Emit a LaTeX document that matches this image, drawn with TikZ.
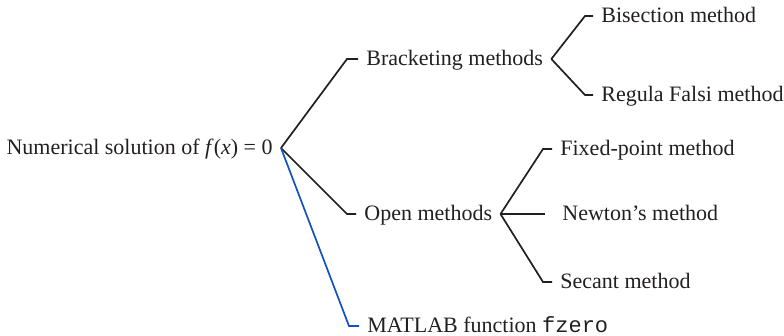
\documentclass[tikz,border=0pt]{standalone}
\usepackage{fontspec}
\setmainfont{Liberation Serif}
\setmonofont{Liberation Mono}
\definecolor{ink}{RGB}{35,31,32}
\definecolor{matblue}{RGB}{20,80,190}
\begin{document}
\begin{tikzpicture}[x=0.5pt, y=-0.5pt,
  lbl/.style={inner xsep=4pt, inner ysep=0pt, text height=0.66em, text depth=0pt,
              font=\fontsize{11}{13}\selectfont, text=ink},
  branch/.style={line width=0.85pt, draw=ink, line join=miter},
  bluebranch/.style={line width=0.85pt, draw=matblue, line join=miter}]
  \useasboundingbox (0,0) rectangle (784,336);

  % tree labels
  \node[lbl, anchor=east] (root) at (281,148) {Numerical solution of \textit{f}(\textit{x}) = 0};
  \node[lbl, anchor=west] (brk) at (358,59) {Bracketing methods};
  \node[lbl, anchor=west] (open) at (356,214) {Open methods};
  \node[lbl, anchor=west] (mat) at (359,326) {MATLAB function \texttt{fzero}};
  \node[lbl, anchor=west] (bis) at (593,16) {Bisection method};
  \node[lbl, anchor=west] (reg) at (593,95) {Regula Falsi method};
  \node[lbl, anchor=west] (fix) at (552,149) {Fixed-point method};
  \node[lbl, anchor=west] (newt) at (554,214) {Newton's method};
  \node[lbl, anchor=west] (sec) at (552,282) {Secant method};

  % branches from the root
  \draw[branch] (root.east) -- ([xshift=-5.5pt]brk.west) -- (brk.west);
  \draw[branch] (root.east) -- ([xshift=-4.5pt]open.west) -- (open.west);
  \draw[bluebranch] (root.east) -- ([xshift=-5pt]mat.west) -- (mat.west);

  % bracketing methods
  \draw[branch] (brk.east) -- ([xshift=-4pt]bis.west) -- (bis.west);
  \draw[branch] (brk.east) -- ([xshift=-4pt]reg.west) -- (reg.west);

  % open methods
  \draw[branch] (open.east) -- ([xshift=-4.5pt]fix.west) -- (fix.west);
  \draw[branch] (open.east) -- ([xshift=-4.5pt]newt.west);
  \draw[branch] (open.east) -- ([xshift=-4.5pt]sec.west) -- (sec.west);
\end{tikzpicture}
\end{document}
